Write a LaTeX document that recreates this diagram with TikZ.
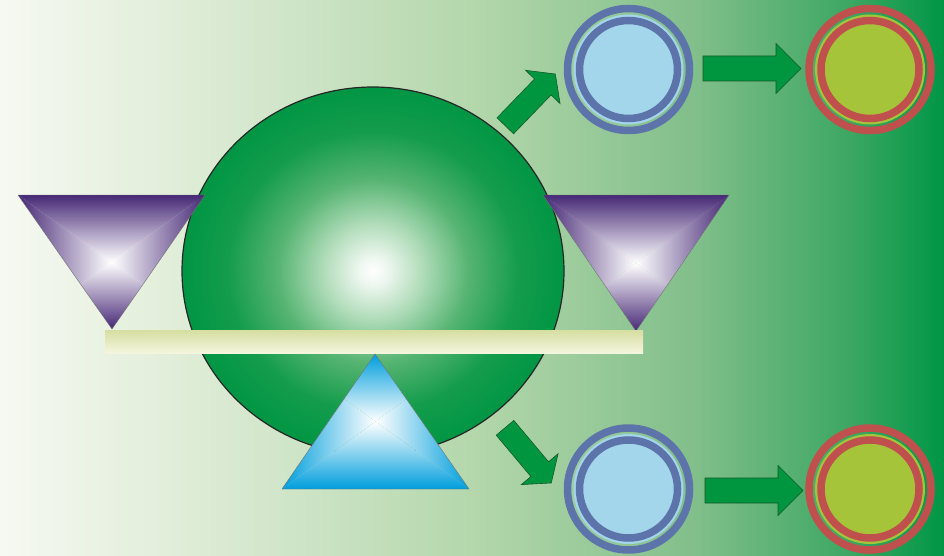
\documentclass[tikz,border=0pt]{standalone}
\definecolor{bgA}{RGB}{246,249,242}
\definecolor{bgB}{RGB}{228,239,220}
\definecolor{bgC}{RGB}{205,228,198}
\definecolor{bgD}{RGB}{180,215,172}
\definecolor{bgE}{RGB}{128,190,138}
\definecolor{bgF}{RGB}{60,167,98}
\definecolor{bgG}{RGB}{0,150,70}
\definecolor{spA}{RGB}{236,246,238}
\definecolor{spB}{RGB}{176,220,185}
\definecolor{spC}{RGB}{86,180,114}
\definecolor{spD}{RGB}{20,156,76}
\definecolor{spE}{RGB}{0,150,68}
\definecolor{pdark}{RGB}{70,40,118}
\definecolor{pmid}{RGB}{128,100,175}
\definecolor{tdark}{RGB}{0,158,220}
\definecolor{tmid}{RGB}{80,182,228}
\definecolor{barA}{RGB}{214,222,160}
\definecolor{barB}{RGB}{232,236,195}
\definecolor{barC}{RGB}{244,245,222}
\definecolor{ringblue}{RGB}{92,116,170}
\definecolor{lightblue}{RGB}{163,213,235}
\definecolor{ringred}{RGB}{192,80,77}
\definecolor{ygreen}{RGB}{165,196,58}
\definecolor{arrgreen}{RGB}{0,150,64}
\definecolor{arrline}{RGB}{20,90,40}
\pgfdeclarehorizontalshading{bgshade}{100bp}{color(0bp)=(bgA); color(25bp)=(bgA); color(33bp)=(bgB); color(41bp)=(bgC); color(50bp)=(bgD); color(62bp)=(bgE); color(70bp)=(bgF); color(75bp)=(bgG); color(100bp)=(bgG)}
\pgfdeclareradialshading{sphereshade}{\pgfpoint{0bp}{0bp}}{color(0bp)=(white); color(2bp)=(spA); color(6.5bp)=(spB); color(12.5bp)=(spC); color(19bp)=(spD); color(25bp)=(spE); color(50bp)=(spE)}
\newcommand\pyrfill[8]{%
  \shade[top color=#7, middle color=#8, bottom color=white] (#1,#2) -- (#3,#2) -- (#5,#6) -- cycle;
  \shade[bottom color=#7, middle color=#8, top color=white] (#1,#4) -- (#3,#4) -- (#5,#6) -- cycle;
  \shade[left color=#7, middle color=#8, right color=white] (#1,#2) -- (#1,#4) -- (#5,#6) -- cycle;
  \shade[right color=#7, middle color=#8, left color=white] (#3,#2) -- (#3,#4) -- (#5,#6) -- cycle;}
\tikzset{
  triedge/.style={draw=black!55, line width=0.4pt},
  arrowbody/.style={fill=arrgreen, draw=arrline, line width=0.6pt, line join=miter},
  pics/blockarr/.style n args={4}{code={%
    \path[arrowbody] (0,-#2/2) -- ({#1-#4},-#2/2) -- ({#1-#4},-#3/2) -- (#1,0) -- ({#1-#4},#3/2) -- ({#1-#4},#2/2) -- (0,#2/2) -- cycle;}},
  barstyle/.style={rectangle, inner sep=0pt, outer sep=0pt, top color=barA, middle color=barB, bottom color=barC},
  outerring/.style={draw=#1, line width=7.5pt},
  innerring/.style={draw=#1, line width=7.5pt}
}
\begin{document}
\begin{tikzpicture}[x=1pt,y=-1pt]
\useasboundingbox (0,0) rectangle (944,556);
\shade[shading=bgshade] (0,0) rectangle (944,556);
% big sphere
\coordinate (sph) at (373,271);
\shadedraw[shading=sphereshade, draw=black!85, line width=1.2pt] (sph) ellipse[x radius=191, y radius=184];
% left purple triangle
\coordinate (la) at (18,195); \coordinate (lb) at (205,195); \coordinate (lc) at (112,329);
\begin{scope}
  \clip (la) -- (lb) -- (lc) -- cycle;
  \pyrfill{18}{195}{205}{329}{111.5}{262}{pdark}{pmid}
\end{scope}
\draw[triedge] (la) -- (lb) -- (lc) -- cycle;
% right purple triangle
\coordinate (ra) at (543,195); \coordinate (rb) at (729,195); \coordinate (rc) at (636,331);
\begin{scope}
  \clip (ra) -- (rb) -- (rc) -- cycle;
  \pyrfill{543}{195}{729}{331}{636}{263}{pdark}{pmid}
\end{scope}
\draw[triedge] (ra) -- (rb) -- (rc) -- cycle;
% bar
\node[barstyle, minimum width=538pt, minimum height=23pt] (bar) at (374,341.5) {};
% bottom blue triangle
\coordinate (ba) at (282,489); \coordinate (bb) at (469,489); \coordinate (bc) at (375,354);
\begin{scope}
  \clip (ba) -- (bb) -- (bc) -- cycle;
  \pyrfill{282}{354}{469}{489}{375.5}{421.5}{tdark}{tmid}
\end{scope}
\draw[triedge] (ba) -- (bb) -- (bc) -- cycle;
% circles
\coordinate (b1) at (628.5,69.5);
\coordinate (b2) at (628.5,489);
\coordinate (r1) at (870,69.5);
\coordinate (r2) at (870,489);
\foreach \c in {b1,b2}{
  \draw[outerring=ringblue] (\c) circle[radius=61];
  \fill[lightblue] (\c) circle[radius=55];
  \draw[innerring=ringblue] (\c) circle[radius=49];
}
\foreach \c in {r1,r2}{
  \draw[outerring=ringred] (\c) circle[radius=61];
  \fill[ygreen] (\c) circle[radius=55];
  \draw[innerring=ringred] (\c) circle[radius=49];
}
% arrows
\coordinate (ta1) at (505.3,125.8);
\coordinate (ta2) at (505,427.8);
\coordinate (ta3) at (703,68.5);
\coordinate (ta4) at (705,490.5);
\pic[rotate=46] at (ta1) {blockarr={72}{23}{48}{18}};
\pic[rotate=-50] at (ta2) {blockarr={72}{23}{48}{18}};
\pic at (ta3) {blockarr={98}{25}{50}{25}};
\pic at (ta4) {blockarr={98}{25}{50}{25}};
\end{tikzpicture}
\end{document}
